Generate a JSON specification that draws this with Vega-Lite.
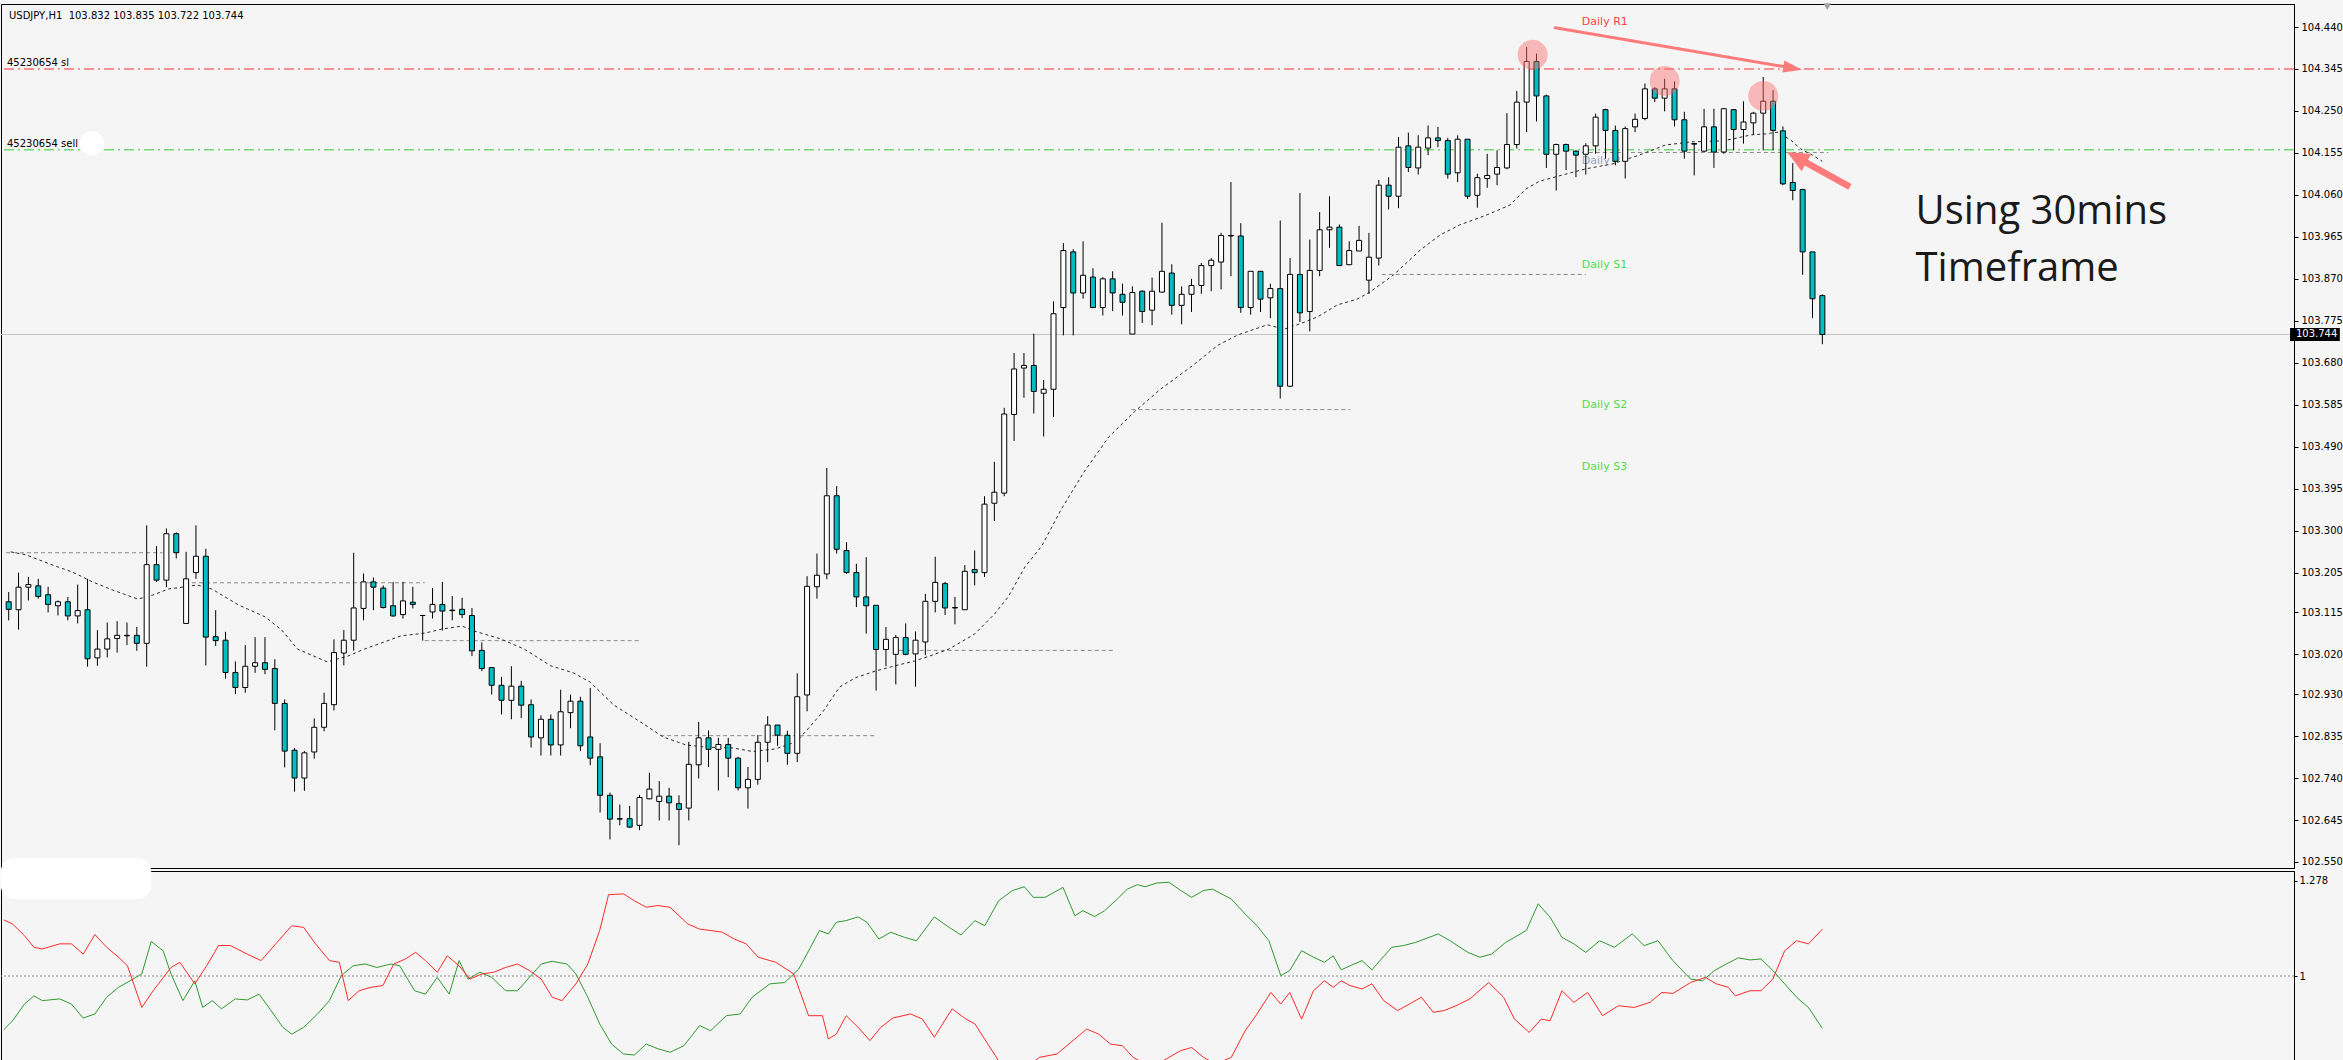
{
"$schema": "https://vega.github.io/schema/vega-lite/v6.json",
"background": "#f5f5f5",
"padding": {"left": 0, "top": 2, "right": 0, "bottom": 0},
"spacing": 3,
"bounds": "flush",
"config": {"view": {"stroke": "#000000", "strokeWidth": 1, "fill": "#f5f5f5"}},
"datasets": {
"candles": [
{"i":0,"o":103.139,"h":103.161,"l":103.097,"c":103.122},
{"i":1,"o":103.121,"h":103.205,"l":103.076,"c":103.172},
{"i":2,"o":103.172,"h":103.195,"l":103.142,"c":103.178},
{"i":3,"o":103.175,"h":103.191,"l":103.146,"c":103.151},
{"i":4,"o":103.155,"h":103.173,"l":103.115,"c":103.133},
{"i":5,"o":103.130,"h":103.142,"l":103.108,"c":103.139},
{"i":6,"o":103.139,"h":103.150,"l":103.097,"c":103.107},
{"i":7,"o":103.107,"h":103.178,"l":103.090,"c":103.119},
{"i":8,"o":103.121,"h":103.191,"l":102.992,"c":103.010},
{"i":9,"o":103.012,"h":103.075,"l":102.994,"c":103.032},
{"i":10,"o":103.032,"h":103.092,"l":103.013,"c":103.055},
{"i":11,"o":103.056,"h":103.095,"l":103.024,"c":103.063},
{"i":12,"o":103.062,"h":103.092,"l":103.041,"c":103.063},
{"i":13,"o":103.063,"h":103.082,"l":103.028,"c":103.045},
{"i":14,"o":103.045,"h":103.312,"l":102.992,"c":103.223},
{"i":15,"o":103.223,"h":103.265,"l":103.184,"c":103.188},
{"i":16,"o":103.188,"h":103.305,"l":103.172,"c":103.293},
{"i":17,"o":103.293,"h":103.296,"l":103.237,"c":103.250},
{"i":18,"o":103.090,"h":103.252,"l":103.090,"c":103.191},
{"i":19,"o":103.205,"h":103.312,"l":103.191,"c":103.242},
{"i":20,"o":103.242,"h":103.259,"l":102.995,"c":103.059},
{"i":21,"o":103.060,"h":103.120,"l":103.039,"c":103.051},
{"i":22,"o":103.052,"h":103.071,"l":102.965,"c":102.979},
{"i":23,"o":102.979,"h":103.004,"l":102.930,"c":102.945},
{"i":24,"o":102.945,"h":103.041,"l":102.933,"c":102.993},
{"i":25,"o":102.993,"h":103.059,"l":102.978,"c":103.001},
{"i":26,"o":103.001,"h":103.059,"l":102.975,"c":102.986},
{"i":27,"o":102.988,"h":103.009,"l":102.848,"c":102.909},
{"i":28,"o":102.909,"h":102.918,"l":102.764,"c":102.801},
{"i":29,"o":102.803,"h":102.808,"l":102.709,"c":102.740},
{"i":30,"o":102.740,"h":102.801,"l":102.711,"c":102.797},
{"i":31,"o":102.799,"h":102.875,"l":102.784,"c":102.855},
{"i":32,"o":102.855,"h":102.933,"l":102.846,"c":102.909},
{"i":33,"o":102.906,"h":103.054,"l":102.893,"c":103.024},
{"i":34,"o":103.023,"h":103.075,"l":102.995,"c":103.052},
{"i":35,"o":103.052,"h":103.250,"l":103.028,"c":103.125},
{"i":36,"o":103.124,"h":103.203,"l":103.097,"c":103.184},
{"i":37,"o":103.184,"h":103.194,"l":103.120,"c":103.172},
{"i":38,"o":103.170,"h":103.176,"l":103.124,"c":103.126},
{"i":39,"o":103.130,"h":103.184,"l":103.105,"c":103.107},
{"i":40,"o":103.110,"h":103.184,"l":103.101,"c":103.141},
{"i":41,"o":103.138,"h":103.173,"l":103.124,"c":103.133},
{"i":42,"o":103.108,"h":103.108,"l":103.051,"c":103.108},
{"i":43,"o":103.116,"h":103.170,"l":103.101,"c":103.133},
{"i":44,"o":103.133,"h":103.184,"l":103.074,"c":103.118},
{"i":45,"o":103.120,"h":103.152,"l":103.097,"c":103.119},
{"i":46,"o":103.122,"h":103.148,"l":103.102,"c":103.110},
{"i":47,"o":103.108,"h":103.125,"l":103.016,"c":103.028},
{"i":48,"o":103.029,"h":103.047,"l":102.982,"c":102.988},
{"i":49,"o":102.990,"h":102.990,"l":102.929,"c":102.950},
{"i":50,"o":102.950,"h":102.969,"l":102.884,"c":102.916},
{"i":51,"o":102.916,"h":102.993,"l":102.873,"c":102.948},
{"i":52,"o":102.948,"h":102.960,"l":102.876,"c":102.905},
{"i":53,"o":102.906,"h":102.918,"l":102.809,"c":102.833},
{"i":54,"o":102.831,"h":102.882,"l":102.791,"c":102.873},
{"i":55,"o":102.873,"h":102.884,"l":102.791,"c":102.815},
{"i":56,"o":102.815,"h":102.940,"l":102.791,"c":102.890},
{"i":57,"o":102.888,"h":102.929,"l":102.853,"c":102.914},
{"i":58,"o":102.914,"h":102.924,"l":102.801,"c":102.813},
{"i":59,"o":102.833,"h":102.944,"l":102.769,"c":102.785},
{"i":60,"o":102.788,"h":102.819,"l":102.662,"c":102.701},
{"i":61,"o":102.701,"h":102.707,"l":102.601,"c":102.647},
{"i":62,"o":102.648,"h":102.680,"l":102.633,"c":102.647},
{"i":63,"o":102.648,"h":102.677,"l":102.627,"c":102.629},
{"i":64,"o":102.633,"h":102.702,"l":102.622,"c":102.696},
{"i":65,"o":102.693,"h":102.752,"l":102.692,"c":102.715},
{"i":66,"o":102.687,"h":102.733,"l":102.644,"c":102.699},
{"i":67,"o":102.699,"h":102.718,"l":102.644,"c":102.684},
{"i":68,"o":102.682,"h":102.701,"l":102.588,"c":102.669},
{"i":69,"o":102.672,"h":102.822,"l":102.644,"c":102.771},
{"i":70,"o":102.770,"h":102.867,"l":102.739,"c":102.831},
{"i":71,"o":102.831,"h":102.848,"l":102.765,"c":102.805},
{"i":72,"o":102.805,"h":102.831,"l":102.712,"c":102.816},
{"i":73,"o":102.816,"h":102.831,"l":102.742,"c":102.785},
{"i":74,"o":102.785,"h":102.788,"l":102.712,"c":102.718},
{"i":75,"o":102.718,"h":102.765,"l":102.671,"c":102.737},
{"i":76,"o":102.737,"h":102.837,"l":102.725,"c":102.821},
{"i":77,"o":102.821,"h":102.880,"l":102.776,"c":102.860},
{"i":78,"o":102.860,"h":102.860,"l":102.813,"c":102.837},
{"i":79,"o":102.837,"h":102.847,"l":102.770,"c":102.796},
{"i":80,"o":102.796,"h":102.977,"l":102.776,"c":102.924},
{"i":81,"o":102.928,"h":103.197,"l":102.891,"c":103.174},
{"i":82,"o":103.173,"h":103.248,"l":103.146,"c":103.199},
{"i":83,"o":103.202,"h":103.442,"l":103.190,"c":103.379},
{"i":84,"o":103.379,"h":103.401,"l":103.248,"c":103.258},
{"i":85,"o":103.255,"h":103.274,"l":103.202,"c":103.205},
{"i":86,"o":103.205,"h":103.225,"l":103.127,"c":103.150},
{"i":87,"o":103.150,"h":103.240,"l":103.067,"c":103.130},
{"i":88,"o":103.131,"h":103.131,"l":102.938,"c":103.031},
{"i":89,"o":103.031,"h":103.082,"l":102.993,"c":103.054},
{"i":90,"o":103.020,"h":103.064,"l":102.952,"c":103.058},
{"i":91,"o":103.058,"h":103.090,"l":103.018,"c":103.020},
{"i":92,"o":103.021,"h":103.072,"l":102.947,"c":103.052},
{"i":93,"o":103.048,"h":103.157,"l":103.018,"c":103.140},
{"i":94,"o":103.140,"h":103.241,"l":103.115,"c":103.183},
{"i":95,"o":103.180,"h":103.184,"l":103.109,"c":103.125},
{"i":96,"o":103.126,"h":103.150,"l":103.088,"c":103.125},
{"i":97,"o":103.121,"h":103.222,"l":103.121,"c":103.208},
{"i":98,"o":103.212,"h":103.255,"l":103.176,"c":103.205},
{"i":99,"o":103.205,"h":103.378,"l":103.195,"c":103.360},
{"i":100,"o":103.362,"h":103.456,"l":103.322,"c":103.387},
{"i":101,"o":103.385,"h":103.578,"l":103.378,"c":103.564},
{"i":102,"o":103.563,"h":103.702,"l":103.503,"c":103.666},
{"i":103,"o":103.668,"h":103.702,"l":103.601,"c":103.674},
{"i":104,"o":103.674,"h":103.746,"l":103.565,"c":103.615},
{"i":105,"o":103.611,"h":103.641,"l":103.513,"c":103.620},
{"i":106,"o":103.620,"h":103.819,"l":103.557,"c":103.791},
{"i":107,"o":103.805,"h":103.951,"l":103.742,"c":103.934},
{"i":108,"o":103.931,"h":103.937,"l":103.742,"c":103.838},
{"i":109,"o":103.838,"h":103.955,"l":103.825,"c":103.878},
{"i":110,"o":103.874,"h":103.894,"l":103.805,"c":103.805},
{"i":111,"o":103.805,"h":103.874,"l":103.787,"c":103.870},
{"i":112,"o":103.870,"h":103.887,"l":103.797,"c":103.838},
{"i":113,"o":103.835,"h":103.859,"l":103.787,"c":103.817},
{"i":114,"o":103.745,"h":103.853,"l":103.745,"c":103.839},
{"i":115,"o":103.842,"h":103.844,"l":103.770,"c":103.796},
{"i":116,"o":103.799,"h":103.873,"l":103.765,"c":103.842},
{"i":117,"o":103.840,"h":103.997,"l":103.839,"c":103.887},
{"i":118,"o":103.883,"h":103.903,"l":103.789,"c":103.810},
{"i":119,"o":103.810,"h":103.853,"l":103.767,"c":103.835},
{"i":120,"o":103.835,"h":103.870,"l":103.795,"c":103.855},
{"i":121,"o":103.855,"h":103.906,"l":103.836,"c":103.900},
{"i":122,"o":103.900,"h":103.917,"l":103.842,"c":103.912},
{"i":123,"o":103.908,"h":103.974,"l":103.846,"c":103.968},
{"i":124,"o":103.968,"h":104.089,"l":103.876,"c":103.967},
{"i":125,"o":103.967,"h":103.996,"l":103.793,"c":103.805},
{"i":126,"o":103.805,"h":103.887,"l":103.789,"c":103.887},
{"i":127,"o":103.887,"h":103.887,"l":103.795,"c":103.824},
{"i":128,"o":103.827,"h":103.859,"l":103.781,"c":103.848},
{"i":129,"o":103.848,"h":104.002,"l":103.599,"c":103.627},
{"i":130,"o":103.627,"h":103.917,"l":103.625,"c":103.880},
{"i":131,"o":103.880,"h":104.064,"l":103.772,"c":103.793},
{"i":132,"o":103.796,"h":103.959,"l":103.751,"c":103.889},
{"i":133,"o":103.889,"h":104.021,"l":103.876,"c":103.981},
{"i":134,"o":103.981,"h":104.057,"l":103.940,"c":103.987},
{"i":135,"o":103.987,"h":103.993,"l":103.900,"c":103.900},
{"i":136,"o":103.902,"h":103.955,"l":103.902,"c":103.934},
{"i":137,"o":103.933,"h":103.990,"l":103.933,"c":103.957},
{"i":138,"o":103.867,"h":103.974,"l":103.836,"c":103.919},
{"i":139,"o":103.917,"h":104.094,"l":103.900,"c":104.082},
{"i":140,"o":104.082,"h":104.100,"l":104.027,"c":104.057},
{"i":141,"o":104.057,"h":104.191,"l":104.030,"c":104.168},
{"i":142,"o":104.171,"h":104.201,"l":104.112,"c":104.122},
{"i":143,"o":104.121,"h":104.195,"l":104.106,"c":104.168},
{"i":144,"o":104.166,"h":104.217,"l":104.150,"c":104.189},
{"i":145,"o":104.189,"h":104.214,"l":104.168,"c":104.183},
{"i":146,"o":104.183,"h":104.189,"l":104.097,"c":104.107},
{"i":147,"o":104.110,"h":104.195,"l":104.089,"c":104.186},
{"i":148,"o":104.186,"h":104.186,"l":104.051,"c":104.057},
{"i":149,"o":104.059,"h":104.108,"l":104.031,"c":104.099},
{"i":150,"o":104.097,"h":104.153,"l":104.076,"c":104.104},
{"i":151,"o":104.107,"h":104.161,"l":104.082,"c":104.122},
{"i":152,"o":104.121,"h":104.245,"l":104.118,"c":104.174},
{"i":153,"o":104.174,"h":104.295,"l":104.165,"c":104.270},
{"i":154,"o":104.270,"h":104.395,"l":104.202,"c":104.362},
{"i":155,"o":104.362,"h":104.380,"l":104.226,"c":104.284},
{"i":156,"o":104.284,"h":104.287,"l":104.121,"c":104.152},
{"i":157,"o":104.152,"h":104.176,"l":104.070,"c":104.174},
{"i":158,"o":104.174,"h":104.176,"l":104.116,"c":104.159},
{"i":159,"o":104.159,"h":104.161,"l":104.100,"c":104.150},
{"i":160,"o":104.152,"h":104.177,"l":104.106,"c":104.171},
{"i":161,"o":104.171,"h":104.244,"l":104.153,"c":104.236},
{"i":162,"o":104.253,"h":104.255,"l":104.142,"c":104.206},
{"i":163,"o":104.206,"h":104.217,"l":104.127,"c":104.136},
{"i":164,"o":104.136,"h":104.215,"l":104.097,"c":104.210},
{"i":165,"o":104.214,"h":104.244,"l":104.202,"c":104.231},
{"i":166,"o":104.233,"h":104.312,"l":104.229,"c":104.300},
{"i":167,"o":104.300,"h":104.304,"l":104.270,"c":104.279},
{"i":168,"o":104.279,"h":104.323,"l":104.249,"c":104.300},
{"i":169,"o":104.300,"h":104.317,"l":104.215,"c":104.230},
{"i":170,"o":104.230,"h":104.248,"l":104.142,"c":104.159},
{"i":171,"o":104.176,"h":104.176,"l":104.104,"c":104.175},
{"i":172,"o":104.159,"h":104.255,"l":104.157,"c":104.214},
{"i":173,"o":104.214,"h":104.255,"l":104.121,"c":104.157},
{"i":174,"o":104.157,"h":104.257,"l":104.153,"c":104.255},
{"i":175,"o":104.253,"h":104.253,"l":104.161,"c":104.208},
{"i":176,"o":104.208,"h":104.272,"l":104.176,"c":104.225},
{"i":177,"o":104.223,"h":104.248,"l":104.196,"c":104.245},
{"i":178,"o":104.245,"h":104.327,"l":104.161,"c":104.272},
{"i":179,"o":104.272,"h":104.297,"l":104.161,"c":104.206},
{"i":180,"o":104.205,"h":104.215,"l":104.082,"c":104.085},
{"i":181,"o":104.088,"h":104.132,"l":104.048,"c":104.070},
{"i":182,"o":104.072,"h":104.074,"l":103.879,"c":103.931},
{"i":183,"o":103.931,"h":103.931,"l":103.781,"c":103.825},
{"i":184,"o":103.832,"h":103.835,"l":103.722,"c":103.744}
],
"ma": [
{"i":0.2,"v":103.252},{"i":1.8,"v":103.245},{"i":4.1,"v":103.225},{"i":6.5,"v":103.206},{"i":8.5,"v":103.184},{"i":10.5,"v":103.166},{"i":13.1,"v":103.145},{"i":14.6,"v":103.154},{"i":16.2,"v":103.168},{"i":17.6,"v":103.172},{"i":19.1,"v":103.177},{"i":20.6,"v":103.168},{"i":23.3,"v":103.132},{"i":26.0,"v":103.105},{"i":27.7,"v":103.075},{"i":29.3,"v":103.032},{"i":32.3,"v":103.003},{"i":34.4,"v":103.016},{"i":36.1,"v":103.032},{"i":38.1,"v":103.048},{"i":39.8,"v":103.062},{"i":42.2,"v":103.068},{"i":43.9,"v":103.077},{"i":46.0,"v":103.084},{"i":47.2,"v":103.073},{"i":49.9,"v":103.055},{"i":52.3,"v":103.032},{"i":55.0,"v":102.994},{"i":57.3,"v":102.978},{"i":59.0,"v":102.957},{"i":61.4,"v":102.905},{"i":64.1,"v":102.867},{"i":66.4,"v":102.833},{"i":68.7,"v":102.815},{"i":70.7,"v":102.810},{"i":73.5,"v":102.808},{"i":75.5,"v":102.800},{"i":77.8,"v":102.806},{"i":79.9,"v":102.822},{"i":80.8,"v":102.844},{"i":82.6,"v":102.890},{"i":84.3,"v":102.946},{"i":85.9,"v":102.967},{"i":87.9,"v":102.982},{"i":89.9,"v":102.994},{"i":91.9,"v":103.005},{"i":93.4,"v":103.016},{"i":95.4,"v":103.032},{"i":98.0,"v":103.066},{"i":100.0,"v":103.111},{"i":101.4,"v":103.150},{"i":103.1,"v":103.218},{"i":104.8,"v":103.265},{"i":106.8,"v":103.349},{"i":109.1,"v":103.433},{"i":111.6,"v":103.512},{"i":114.2,"v":103.569},{"i":116.9,"v":103.621},{"i":119.9,"v":103.670},{"i":122.7,"v":103.720},{"i":124.7,"v":103.743},{"i":127.7,"v":103.766},{"i":129.4,"v":103.756},{"i":131.0,"v":103.768},{"i":132.8,"v":103.784},{"i":134.8,"v":103.811},{"i":136.8,"v":103.824},{"i":138.1,"v":103.840},{"i":140.5,"v":103.879},{"i":143.2,"v":103.935},{"i":145.2,"v":103.969},{"i":147.2,"v":103.992},{"i":149.9,"v":104.014},{"i":152.3,"v":104.037},{"i":153.9,"v":104.073},{"i":155.3,"v":104.091},{"i":157.3,"v":104.103},{"i":160.0,"v":104.119},{"i":162.7,"v":104.130},{"i":165.4,"v":104.150},{"i":168.1,"v":104.173},{"i":170.7,"v":104.180},{"i":173.5,"v":104.182},{"i":174.8,"v":104.186},{"i":176.8,"v":104.196},{"i":178.2,"v":104.198},{"i":179.5,"v":104.202},{"i":180.8,"v":104.184},{"i":181.8,"v":104.164},{"i":183.0,"v":104.150},{"i":184.0,"v":104.136}
],
"pivots": [
{"a":-0.27,"b":15.6,"v":103.250},
{"a":18.6,"b":42.2,"v":103.182},
{"a":42.2,"b":64.1,"v":103.051},
{"a":66.1,"b":88.0,"v":102.836},
{"a":90.3,"b":112.2,"v":103.029},
{"a":113.9,"b":136.1,"v":103.574},
{"a":139.3,"b":160.0,"v":103.880},
{"a":159.6,"b":184.6,"v":104.156}
],
"vp": [
{"i":0,"v":0.843},{"i":0.9,"v":0.869},{"i":2.1,"v":0.918},{"i":3.05,"v":0.942},{"i":3.9,"v":0.928},{"i":5.66,"v":0.933},{"i":6.84,"v":0.918},{"i":8.03,"v":0.877},{"i":9.21,"v":0.889},{"i":10.4,"v":0.938},{"i":11.6,"v":0.967},{"i":12.77,"v":0.986},{"i":13.95,"v":1.006},{"i":14.9,"v":1.101},{"i":16.1,"v":1.074},{"i":16.9,"v":1.006},{"i":18.1,"v":0.928},{"i":19.3,"v":0.986},{"i":20.1,"v":0.908},{"i":21.07,"v":0.928},{"i":22.0,"v":0.904},{"i":23.4,"v":0.933},{"i":24.6,"v":0.930},{"i":25.8,"v":0.947},{"i":27.0,"v":0.899},{"i":28.2,"v":0.850},{"i":29.1,"v":0.830},{"i":30.3,"v":0.850},{"i":31.7,"v":0.889},{"i":32.9,"v":0.928},{"i":34.1,"v":1.001},{"i":35.3,"v":1.030},{"i":36.5,"v":1.035},{"i":37.7,"v":1.025},{"i":39.1,"v":1.035},{"i":40.0,"v":1.030},{"i":41.5,"v":0.957},{"i":42.6,"v":0.947},{"i":43.8,"v":0.996},{"i":45.0,"v":0.947},{"i":46.0,"v":1.045},{"i":46.9,"v":0.991},{"i":48.1,"v":1.011},{"i":49.3,"v":0.996},{"i":50.7,"v":0.957},{"i":51.9,"v":0.957},{"i":53.1,"v":0.996},{"i":54.3,"v":1.035},{"i":55.4,"v":1.043},{"i":56.9,"v":1.035},{"i":57.8,"v":1.006},{"i":59.0,"v":0.938},{"i":60.2,"v":0.860},{"i":61.4,"v":0.801},{"i":62.6,"v":0.772},{"i":63.7,"v":0.769},{"i":64.9,"v":0.801},{"i":66.1,"v":0.787},{"i":67.3,"v":0.777},{"i":68.7,"v":0.796},{"i":70.3,"v":0.855},{"i":71.4,"v":0.840},{"i":73.0,"v":0.884},{"i":74.4,"v":0.889},{"i":75.6,"v":0.938},{"i":77.4,"v":0.977},{"i":78.9,"v":0.981},{"i":80.3,"v":1.020},{"i":81.5,"v":1.084},{"i":82.4,"v":1.133},{"i":83.3,"v":1.123},{"i":84.1,"v":1.157},{"i":85.1,"v":1.162},{"i":86.3,"v":1.173},{"i":87.2,"v":1.157},{"i":88.4,"v":1.108},{"i":89.6,"v":1.128},{"i":91.0,"v":1.113},{"i":92.2,"v":1.103},{"i":94.0,"v":1.173},{"i":95.5,"v":1.142},{"i":96.7,"v":1.120},{"i":98.1,"v":1.162},{"i":99.1,"v":1.147},{"i":100.5,"v":1.220},{"i":101.9,"v":1.250},{"i":103.1,"v":1.261},{"i":104.0,"v":1.230},{"i":105.2,"v":1.230},{"i":107.0,"v":1.259},{"i":108.2,"v":1.176},{"i":109.0,"v":1.191},{"i":110.2,"v":1.174},{"i":111.2,"v":1.191},{"i":112.3,"v":1.220},{"i":113.5,"v":1.254},{"i":114.5,"v":1.267},{"i":115.3,"v":1.261},{"i":116.5,"v":1.272},{"i":117.7,"v":1.274},{"i":118.9,"v":1.250},{"i":120.0,"v":1.230},{"i":121.2,"v":1.250},{"i":122.1,"v":1.254},{"i":124.0,"v":1.225},{"i":125.4,"v":1.181},{"i":126.6,"v":1.147},{"i":127.8,"v":1.103},{"i":129.0,"v":1.001},{"i":129.9,"v":1.016},{"i":131.1,"v":1.074},{"i":132.3,"v":1.055},{"i":133.4,"v":1.040},{"i":134.3,"v":1.059},{"i":135.1,"v":1.018},{"i":136.0,"v":1.030},{"i":137.2,"v":1.045},{"i":138.2,"v":1.018},{"i":140.2,"v":1.084},{"i":141.4,"v":1.089},{"i":142.6,"v":1.098},{"i":144.9,"v":1.123},{"i":146.1,"v":1.103},{"i":147.9,"v":1.069},{"i":149.1,"v":1.055},{"i":150.3,"v":1.064},{"i":151.7,"v":1.098},{"i":153.8,"v":1.133},{"i":155.0,"v":1.211},{"i":156.2,"v":1.172},{"i":157.4,"v":1.113},{"i":158.6,"v":1.094},{"i":159.8,"v":1.069},{"i":161.2,"v":1.103},{"i":162.7,"v":1.084},{"i":164.5,"v":1.123},{"i":165.7,"v":1.089},{"i":167.1,"v":1.103},{"i":168.6,"v":1.045},{"i":170.4,"v":0.991},{"i":171.6,"v":0.986},{"i":172.8,"v":1.016},{"i":174.0,"v":1.035},{"i":175.2,"v":1.053},{"i":176.4,"v":1.047},{"i":177.5,"v":1.050},{"i":178.7,"v":1.016},{"i":179.9,"v":0.977},{"i":181.1,"v":0.938},{"i":182.3,"v":0.908},{"i":183.7,"v":0.847}
],
"vm": [
{"i":0,"v":1.164},{"i":0.9,"v":1.152},{"i":2.1,"v":1.118},{"i":3.05,"v":1.084},{"i":3.9,"v":1.079},{"i":5.66,"v":1.094},{"i":6.84,"v":1.094},{"i":8.03,"v":1.064},{"i":9.21,"v":1.121},{"i":10.4,"v":1.084},{"i":11.6,"v":1.055},{"i":12.5,"v":1.030},{"i":13.95,"v":0.908},{"i":15.1,"v":0.957},{"i":16.9,"v":1.025},{"i":17.8,"v":1.040},{"i":19.3,"v":0.977},{"i":20.5,"v":1.030},{"i":21.7,"v":1.089},{"i":22.9,"v":1.089},{"i":24.6,"v":1.064},{"i":26.0,"v":1.045},{"i":27.6,"v":1.098},{"i":29.1,"v":1.147},{"i":30.3,"v":1.142},{"i":31.5,"v":1.094},{"i":32.9,"v":1.045},{"i":33.9,"v":1.040},{"i":34.8,"v":0.928},{"i":35.9,"v":0.957},{"i":37.1,"v":0.967},{"i":38.3,"v":0.972},{"i":39.4,"v":1.035},{"i":40.6,"v":1.050},{"i":41.6,"v":1.069},{"i":42.6,"v":1.045},{"i":43.8,"v":1.011},{"i":44.8,"v":1.059},{"i":46.0,"v":1.030},{"i":47.1,"v":0.991},{"i":48.3,"v":1.006},{"i":49.5,"v":1.011},{"i":50.7,"v":1.025},{"i":51.9,"v":1.035},{"i":53.1,"v":1.016},{"i":54.3,"v":0.991},{"i":55.4,"v":0.938},{"i":56.4,"v":0.928},{"i":57.8,"v":0.977},{"i":59.0,"v":1.035},{"i":60.2,"v":1.133},{"i":61.1,"v":1.238},{"i":62.6,"v":1.240},{"i":63.7,"v":1.220},{"i":64.9,"v":1.201},{"i":66.1,"v":1.206},{"i":67.3,"v":1.201},{"i":69.1,"v":1.152},{"i":70.3,"v":1.137},{"i":71.4,"v":1.133},{"i":72.6,"v":1.128},{"i":73.8,"v":1.108},{"i":75.0,"v":1.094},{"i":76.2,"v":1.055},{"i":78.0,"v":1.040},{"i":79.8,"v":1.006},{"i":81.3,"v":0.884},{"i":82.7,"v":0.884},{"i":83.3,"v":0.816},{"i":84.1,"v":0.830},{"i":85.1,"v":0.884},{"i":86.3,"v":0.850},{"i":87.5,"v":0.811},{"i":88.6,"v":0.850},{"i":89.8,"v":0.877},{"i":91.6,"v":0.889},{"i":92.8,"v":0.874},{"i":94.0,"v":0.821},{"i":95.8,"v":0.904},{"i":97.2,"v":0.874},{"i":98.1,"v":0.860},{"i":99.3,"v":0.806},{"i":100.5,"v":0.752},{"i":102.9,"v":0.723},{"i":104.6,"v":0.762},{"i":106.4,"v":0.772},{"i":108.2,"v":0.816},{"i":109.4,"v":0.845},{"i":110.6,"v":0.830},{"i":111.8,"v":0.801},{"i":113.0,"v":0.796},{"i":114.1,"v":0.762},{"i":115.3,"v":0.743},{"i":117.1,"v":0.752},{"i":118.9,"v":0.782},{"i":120.0,"v":0.791},{"i":121.2,"v":0.762},{"i":122.4,"v":0.743},{"i":124.0,"v":0.762},{"i":125.4,"v":0.840},{"i":126.6,"v":0.889},{"i":128.0,"v":0.952},{"i":129.0,"v":0.918},{"i":129.9,"v":0.952},{"i":131.1,"v":0.874},{"i":132.3,"v":0.957},{"i":133.4,"v":0.986},{"i":134.3,"v":0.967},{"i":135.1,"v":0.986},{"i":136.0,"v":0.972},{"i":137.2,"v":0.962},{"i":138.2,"v":0.977},{"i":139.4,"v":0.928},{"i":140.8,"v":0.899},{"i":142.0,"v":0.918},{"i":143.2,"v":0.938},{"i":144.4,"v":0.894},{"i":145.5,"v":0.899},{"i":146.7,"v":0.913},{"i":148.1,"v":0.933},{"i":150.0,"v":0.981},{"i":151.5,"v":0.938},{"i":152.6,"v":0.874},{"i":154.1,"v":0.835},{"i":155.3,"v":0.874},{"i":156.2,"v":0.869},{"i":157.4,"v":0.957},{"i":158.6,"v":0.923},{"i":160.0,"v":0.952},{"i":161.5,"v":0.884},{"i":163.1,"v":0.913},{"i":164.7,"v":0.908},{"i":166.3,"v":0.923},{"i":167.5,"v":0.952},{"i":168.6,"v":0.949},{"i":170.4,"v":0.981},{"i":171.9,"v":0.996},{"i":173.0,"v":0.977},{"i":174.2,"v":0.967},{"i":174.9,"v":0.942},{"i":176.4,"v":0.957},{"i":177.5,"v":0.957},{"i":178.7,"v":0.991},{"i":179.9,"v":1.074},{"i":181.1,"v":1.103},{"i":182.3,"v":1.094},{"i":183.7,"v":1.137}
]
},
"vconcat": [
{
"width": 2293,
"height": 864,
"layer": [
{"data": {"name": "pivots"}, "mark": {"type": "rule", "stroke": "#8a8a8a", "strokeWidth": 1, "strokeDash": [4, 3]},
 "encoding": {"x": {"field": "a", "type": "quantitative", "scale": {"domain": [-0.2727, 231.343], "nice": false, "zero": false}, "axis": null}, "x2": {"field": "b"},
  "y": {"field": "v", "type": "quantitative", "scale": {"domain": [102.5364, 104.4921], "nice": false, "zero": false},
   "axis": {"orient": "right", "title": null, "grid": false, "values": [104.44, 104.345, 104.25, 104.155, 104.06, 103.965, 103.87, 103.775, 103.68, 103.585, 103.49, 103.395, 103.3, 103.205, 103.115, 103.02, 102.93, 102.835, 102.74, 102.645, 102.55], "format": ".3f", "domainColor": "#000000", "tickColor": "#000000", "tickSize": 4, "labelColor": "#000000", "labelFont": "DejaVu Sans", "labelFontSize": 10, "labelPadding": 3, "labelOverlap": false, "labelBound": false, "labelFlush": false}}}},
{"data": {"values": [{"v": 104.345}]}, "mark": {"type": "rule", "stroke": "#ff3030", "strokeWidth": 1, "strokeDash": [10, 4, 2, 4]},
 "encoding": {"y": {"field": "v", "type": "quantitative", "title": null}}},
{"data": {"values": [{"v": 104.162}]}, "mark": {"type": "rule", "stroke": "#33cc33", "strokeWidth": 1, "strokeDash": [10, 4, 2, 4]},
 "encoding": {"y": {"field": "v", "type": "quantitative", "title": null}}},
{"data": {"values": [{"v": 103.744}]}, "mark": {"type": "rule", "stroke": "#c4c4c4", "strokeWidth": 1},
 "encoding": {"y": {"field": "v", "type": "quantitative", "title": null}}},
{"data": {"values": [
  {"t": "Daily R1", "i": 159.6, "p": 104.451, "k": "r"},
  {"t": "Daily P", "i": 159.6, "p": 104.137, "k": "p"},
  {"t": "Daily S1", "i": 159.6, "p": 103.901, "k": "s"},
  {"t": "Daily S2", "i": 159.6, "p": 103.584, "k": "s"},
  {"t": "Daily S3", "i": 159.6, "p": 103.444, "k": "s"}]},
 "mark": {"type": "text", "align": "left", "baseline": "middle", "font": "DejaVu Sans", "fontSize": 11},
 "encoding": {"x": {"field": "i", "type": "quantitative", "axis": null}, "y": {"field": "p", "type": "quantitative", "title": null}, "text": {"field": "t"},
  "color": {"field": "k", "type": "nominal", "scale": {"domain": ["r", "p", "s"], "range": ["#ff3f3f", "#98a3c2", "#4fdc4f"]}, "legend": null}}},
{"data": {"name": "ma"}, "mark": {"type": "line", "stroke": "#2a2a2a", "strokeWidth": 1, "strokeDash": [3, 3]},
 "encoding": {"x": {"field": "i", "type": "quantitative", "axis": null}, "y": {"field": "v", "type": "quantitative", "title": null}}},
{"data": {"name": "candles"}, "mark": {"type": "rule", "stroke": "#000000", "strokeWidth": 1},
 "encoding": {"x": {"field": "i", "type": "quantitative", "axis": null}, "y": {"field": "l", "type": "quantitative", "title": null}, "y2": {"field": "h"}}},
{"data": {"name": "candles"}, "mark": {"type": "bar", "width": 5, "stroke": "#000000", "strokeWidth": 1},
 "encoding": {"x": {"field": "i", "type": "quantitative", "axis": null}, "y": {"field": "o", "type": "quantitative", "title": null}, "y2": {"field": "c"},
  "fill": {"condition": {"test": "datum.c < datum.o", "value": "#00bfc4"}, "value": "#ffffff"}}},
{"data": {"values": [{"i": 154.6, "p": 104.377}, {"i": 168.0, "p": 104.318}, {"i": 178.0, "p": 104.284}]},
 "mark": {"type": "point", "shape": "circle", "filled": true, "size": 900, "fill": "#ff6f6f", "opacity": 0.45, "strokeWidth": 0},
 "encoding": {"x": {"field": "i", "type": "quantitative", "axis": null}, "y": {"field": "p", "type": "quantitative", "title": null}}},
{"data": {"values": [{"i": 156.9, "p": 104.4384, "i2": 181.0, "p2": 104.347}]},
 "mark": {"type": "rule", "stroke": "#ff7b7b", "strokeWidth": 3, "strokeCap": "round"},
 "encoding": {"x": {"field": "i", "type": "quantitative", "axis": null}, "y": {"field": "p", "type": "quantitative", "title": null}, "x2": {"field": "i2"}, "y2": {"field": "p2"}}},
{"data": {"values": [{"i": 186.8, "p": 104.078, "i2": 181.4, "p2": 104.145}]},
 "mark": {"type": "rule", "stroke": "#ff7b7b", "strokeWidth": 6.5, "strokeCap": "butt"},
 "encoding": {"x": {"field": "i", "type": "quantitative", "axis": null}, "y": {"field": "p", "type": "quantitative", "title": null}, "x2": {"field": "i2"}, "y2": {"field": "p2"}}},
{"data": {"values": [{"i": 181.0, "p": 104.347}]},
 "mark": {"type": "point", "shape": "M -1 -0.63 L 1 0 L -1 0.63 Z", "filled": true, "size": 361, "angle": 9.6, "fill": "#ff7b7b", "opacity": 1, "strokeWidth": 0},
 "encoding": {"x": {"field": "i", "type": "quantitative", "axis": null}, "y": {"field": "p", "type": "quantitative", "title": null}}},
{"data": {"values": [{"i": 181.4, "p": 104.145}]},
 "mark": {"type": "point", "shape": "M -1 -0.9 L 1 0 L -1 0.9 Z", "filled": true, "size": 484, "angle": 208.6, "fill": "#ff7b7b", "opacity": 1, "strokeWidth": 0},
 "encoding": {"x": {"field": "i", "type": "quantitative", "axis": null}, "y": {"field": "p", "type": "quantitative", "title": null}}},
{"data": {"values": [
  {"t": "USDJPY,H1\u00a0 103.832 103.835 103.722 103.744", "i": 0.03, "p": 104.465},
  {"t": "45230654 sl", "i": -0.17, "p": 104.359},
  {"t": "45230654 sell", "i": -0.17, "p": 104.176}]},
 "mark": {"type": "text", "align": "left", "baseline": "middle", "font": "DejaVu Sans", "fontSize": 10, "color": "#000000"},
 "encoding": {"x": {"field": "i", "type": "quantitative", "axis": null}, "y": {"field": "p", "type": "quantitative", "title": null}, "text": {"field": "t"}}},
{"data": {"values": [{"i": 8.44, "p": 104.177}]},
 "mark": {"type": "point", "shape": "circle", "filled": true, "size": 573, "fill": "#ffffff", "opacity": 1, "strokeWidth": 0},
 "encoding": {"x": {"field": "i", "type": "quantitative", "axis": null}, "y": {"field": "p", "type": "quantitative", "title": null}}},
{"data": {"values": [{"i": 184.5, "p": 104.486}]},
 "mark": {"type": "point", "shape": "triangle-down", "filled": true, "size": 60, "fill": "#a0a0a0", "opacity": 1, "strokeWidth": 0},
 "encoding": {"x": {"field": "i", "type": "quantitative", "axis": null}, "y": {"field": "p", "type": "quantitative", "title": null}}},
{"data": {"values": [{"t": "Using 30mins", "i": 193.46, "p": 103.995}, {"t": "Timeframe", "i": 193.46, "p": 103.864}]},
 "mark": {"type": "text", "align": "left", "baseline": "alphabetic", "font": "Open Sans", "fontSize": 40, "color": "#1a1a1a"},
 "encoding": {"x": {"field": "i", "type": "quantitative", "axis": null}, "y": {"field": "p", "type": "quantitative", "title": null}, "text": {"field": "t"}}},
{"data": {"values": [{"p": 103.7295, "p2": 103.7585}]},
 "mark": {"type": "rect", "fill": "#000000"},
 "encoding": {"x": {"datum": 231.45, "type": "quantitative"}, "x2": {"datum": 236.5}, "y": {"field": "p", "type": "quantitative", "title": null}, "y2": {"field": "p2"}}},
{"data": {"values": [{"t": "103.744", "p": 103.744}]},
 "mark": {"type": "text", "align": "left", "baseline": "middle", "font": "DejaVu Sans", "fontSize": 10, "color": "#ffffff"},
 "encoding": {"x": {"datum": 232.05, "type": "quantitative"}, "y": {"field": "p", "type": "quantitative", "title": null}, "text": {"field": "t"}}}
]
},
{
"width": 2293,
"height": 189,
"layer": [
{"data": {"values": [{"v": 1}]}, "mark": {"type": "rule", "stroke": "#8c8c8c", "strokeWidth": 1, "strokeDash": [2, 2]},
 "encoding": {"y": {"field": "v", "type": "quantitative", "scale": {"domain": [0.7544, 1.307], "nice": false, "zero": false},
  "axis": {"orient": "right", "title": null, "grid": false, "values": [1.278, 1], "labelExpr": "datum.value == 1 ? '1' : '1.278'", "domainColor": "#000000", "tickColor": "#000000", "tickSize": 3, "labelColor": "#000000", "labelFont": "DejaVu Sans", "labelFontSize": 10, "labelPadding": 2, "labelOverlap": false, "labelBound": false, "labelFlush": false}}}},
{"data": {"name": "vp"}, "mark": {"type": "line", "stroke": "#2f9a2f", "strokeWidth": 1, "clip": true},
 "encoding": {"x": {"field": "i", "type": "quantitative", "scale": {"domain": [-0.2727, 231.343], "nice": false, "zero": false}, "axis": null}, "y": {"field": "v", "type": "quantitative", "title": null}}},
{"data": {"name": "vm"}, "mark": {"type": "line", "stroke": "#ff2a2a", "strokeWidth": 1, "clip": true},
 "encoding": {"x": {"field": "i", "type": "quantitative", "axis": null}, "y": {"field": "v", "type": "quantitative", "title": null}}},
{"data": {"values": [{"a": -0.3, "b": 14.9, "p": 1.345, "p2": 1.225}]},
 "mark": {"type": "rect", "fill": "#ffffff", "cornerRadius": 14},
 "encoding": {"x": {"field": "a", "type": "quantitative", "axis": null}, "x2": {"field": "b"}, "y": {"field": "p", "type": "quantitative", "title": null}, "y2": {"field": "p2"}}}
]
}
]
}
